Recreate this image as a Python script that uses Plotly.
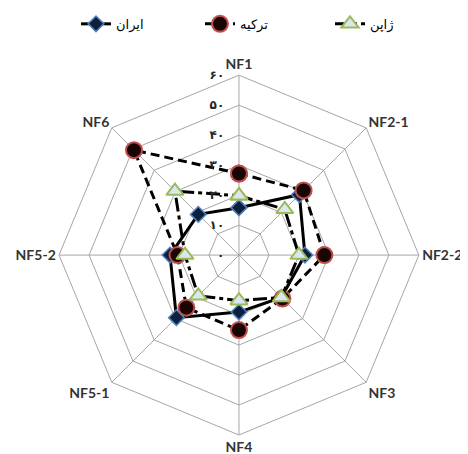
import plotly.graph_objects as go

categories = ["NF1", "NF2-1", "NF2-2", "NF3", "NF4", "NF5-1", "NF5-2", "NF6"]
iran = [15.8, 28.5, 22, 20, 19, 29.5, 23, 19.2]
turkey = [27.2, 30.5, 28.5, 20.5, 25, 24.8, 20.5, 49.5]
japan = [19.8, 21.6, 20, 20, 15.2, 19.2, 18, 30.2]
tick_vals = [0, 10, 20, 30, 40, 50, 60]
tick_text = ["\u06f0", "\u06f1\u06f0", "\u06f2\u06f0", "\u06f3\u06f0",
             "\u06f4\u06f0", "\u06f5\u06f0", "\u06f6\u06f0"]
names = ["\u0627\u06cc\u0631\u0627\u0646",        # ایران
         "\u062a\u0631\u06a9\u06cc\u0647",        # ترکیه
         "\u0698\u0627\u067e\u0646"]              # ژاپن

def closed(v):
    return list(v) + [v[0]]

theta = closed(categories)

fig = go.Figure()
fig.add_trace(go.Scatterpolar(
    r=closed(iran), theta=theta, name=names[0], mode="lines+markers",
    legend="legend",
    line=dict(color="black", width=3),
    marker=dict(symbol="diamond", size=12, color="#0d1f3a",
                line=dict(color="#4f81bd", width=1.5)),
))
fig.add_trace(go.Scatterpolar(
    r=closed(turkey), theta=theta, name=names[1], mode="lines+markers",
    legend="legend2",
    line=dict(color="black", width=3, dash="9px,5px"),
    marker=dict(symbol="circle", size=16, color="#1a0505",
                line=dict(color="#c0504d", width=2)),
))
fig.add_trace(go.Scatterpolar(
    r=closed(japan), theta=theta, name=names[2], mode="lines+markers",
    legend="legend3",
    line=dict(color="black", width=3, dash="14px,4px,4px,4px"),
    marker=dict(symbol="triangle-up", size=15, color="#dce6f2",
                line=dict(color="#9bbb59", width=2)),
))

legend_style = dict(orientation="h", xanchor="left", y=0.965, yanchor="middle",
                    font=dict(size=13, family="DejaVu Sans", color="black"),
                    bgcolor="rgba(0,0,0,0)")

fig.update_layout(
    width=468, height=454,
    margin=dict(l=0, r=0, t=0, b=0),
    paper_bgcolor="white",
    font=dict(family="Lato, DejaVu Sans", color="#262626"),
    showlegend=True,
    legend=dict(x=68 / 468, **legend_style),
    legend2=dict(x=192 / 468, **legend_style),
    legend3=dict(x=322 / 468, **legend_style),
    polar=dict(
        domain=dict(x=[0.109, 0.878], y=[0.0595, 0.852]),
        bgcolor="white",
        gridshape="linear",
        angularaxis=dict(
            rotation=90, direction="clockwise",
            tickfont=dict(size=14, family="Lato", weight="bold", color="#333333"),
            linecolor="#a6a6a6", gridcolor="#a6a6a6", gridwidth=1,
            showline=True, ticks="",
        ),
        radialaxis=dict(
            range=[0, 60], angle=90, tickangle=90,
            tickvals=tick_vals, ticktext=tick_text,
            tickfont=dict(size=12, family="DejaVu Sans", weight="bold", color="#262626"),
            gridcolor="#a6a6a6", gridwidth=1, showline=False,
            ticks="outside", ticklen=10, tickcolor="rgba(0,0,0,0)",
            side="counterclockwise",
        ),
    ),
)

fig.write_html("out.html")
